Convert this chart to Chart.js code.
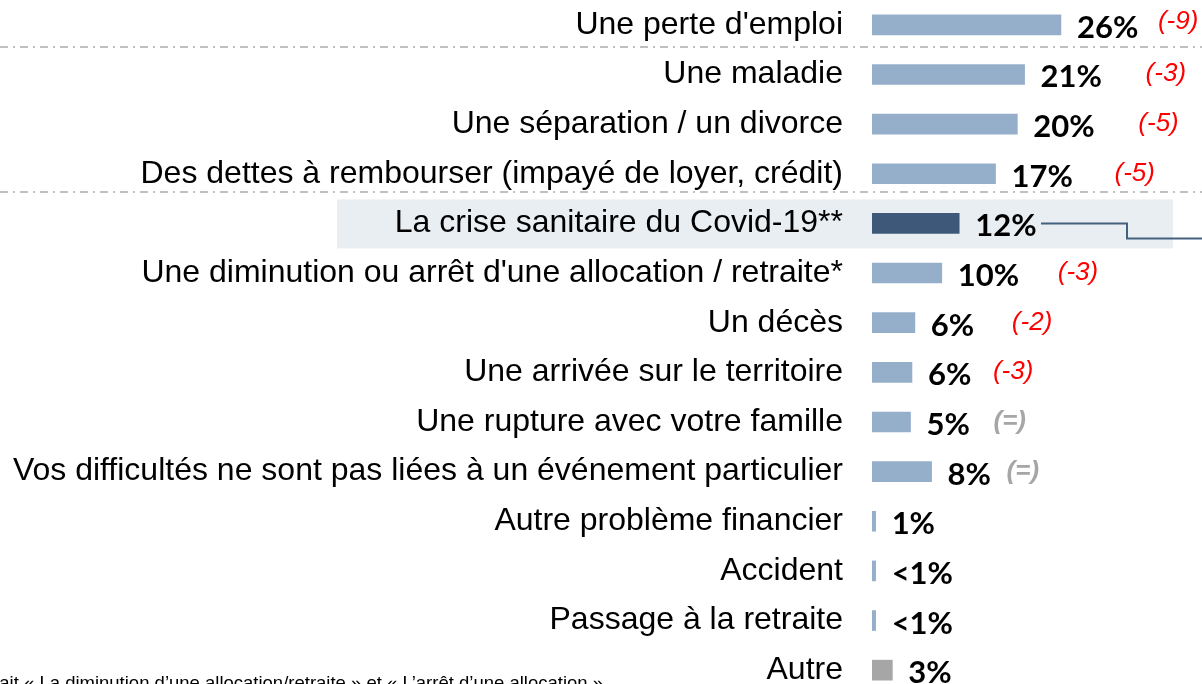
<!DOCTYPE html>
<html><head><meta charset="utf-8">
<script src="https://cdn.jsdelivr.net/npm/chart.js@4/dist/chart.umd.min.js"></script>
<style>html,body{margin:0;padding:0;background:#fff;overflow:hidden}</style>
</head><body>
<canvas id="c" width="1202" height="695"></canvas>
<script>
// ---- DATA ----
const categories = [
  "Une perte d'emploi",
  "Une maladie",
  "Une séparation / un divorce",
  "Des dettes à rembourser (impayé de loyer, crédit)",
  "La crise sanitaire du Covid-19**",
  "Une diminution ou arrêt d'une allocation / retraite*",
  "Un décès",
  "Une arrivée sur le territoire",
  "Une rupture avec votre famille",
  "Vos difficultés ne sont pas liées à un événement particulier",
  "Autre problème financier",
  "Accident",
  "Passage à la retraite",
  "Autre"
];
const barValues   = [26, 21, 20, 17, 12, 9.6, 5.9, 5.5, 5.3, 8.2, 0.5, 0.5, 0.5, null];
const otherValues = [null, null, null, null, null, null, null, null, null, null, null, null, null, 2.8];
const valueLabels = ["26%", "21%", "20%", "17%", "12%", "10%", "6%", "6%", "5%", "8%", "1%", "<1%", "<1%", "3%"];
const deltaLabels = ["(-9)", "(-3)", "(-5)", "(-5)", "", "(-3)", "(-2)", "(-3)", "(=)", "(=)", "", "", "", ""];
const footnote = "*Cet item regroupait « La diminution d’une allocation/retraite » et « L’arrêt d’une allocation »";

// ---- LAYOUT / STYLE ----
const deltaOffsetPx = [97, 121, 121, 119, 0, 116, 97, 81, 83, 75, 0, 0, 0, 0];
const LIGHT = '#95afcb', DARK = '#3e5879', GREY = '#a6a6a6';
const SANS = "'Liberation Sans', Arial, sans-serif";

function dashLine(ctx, y) {
  ctx.save();
  ctx.strokeStyle = '#c0c0c0';
  ctx.lineWidth = 2;
  ctx.setLineDash([8, 5, 2, 5]);
  ctx.beginPath(); ctx.moveTo(0, y); ctx.lineTo(1202, y); ctx.stroke();
  ctx.restore();
}

const decor = {
  id: 'decor',
  beforeDraw(chart) {
    const ctx = chart.ctx, y = chart.scales.y;
    const cy = y.getPixelForValue(4);
    ctx.save();
    ctx.fillStyle = '#e9eef3';
    ctx.fillRect(337, cy - 24, 1173 - 337, 49);
    ctx.restore();
    dashLine(ctx, 47);
    dashLine(ctx, 192);
  },
  afterDatasetsDraw(chart) {
    const ctx = chart.ctx, x = chart.scales.x, y = chart.scales.y;
    ctx.save();
    categories.forEach((c, i) => {
      const v = barValues[i] != null ? barValues[i] : otherValues[i];
      const end = x.getPixelForValue(v);
      const cy = y.getPixelForValue(i);
      ctx.font = "bold 31px Lato, 'Open Sans', sans-serif";
      ctx.fillStyle = '#000';
      ctx.textAlign = 'left';
      ctx.textBaseline = 'alphabetic';
      ctx.fillText(valueLabels[i], end + 16, cy + 13);
      const d = deltaLabels[i];
      if (d) {
        if (d === '(=)') {
          ctx.font = "italic bold 26px " + SANS;
          ctx.fillStyle = GREY;
        } else {
          ctx.font = "italic 26px " + SANS;
          ctx.fillStyle = '#ff0000';
        }
        ctx.fillText(d, end + deltaOffsetPx[i], cy + 7 - (i === 0 ? 3 : 0));
      }
    });
    // connector from the Covid row
    const cy4 = y.getPixelForValue(4);
    ctx.strokeStyle = '#44607f';
    ctx.lineWidth = 2;
    ctx.setLineDash([]);
    ctx.beginPath();
    ctx.moveTo(1041, cy4); ctx.lineTo(1127, cy4); ctx.lineTo(1127, cy4 + 15); ctx.lineTo(1202, cy4 + 15);
    ctx.stroke();
    // footnote (cut at the left edge, as in the source)
    ctx.font = "18.5px " + SANS;
    ctx.fillStyle = '#000';
    ctx.textAlign = 'right';
    ctx.fillText(footnote, 603, 689);
    ctx.restore();
  }
};

new Chart(document.getElementById('c'), {
  type: 'bar',
  data: {
    labels: categories,
    datasets: [
      {
        data: barValues,
        backgroundColor: (ctx) => ctx.dataIndex === 4 ? DARK : LIGHT,
        barThickness: 20,
        grouped: false
      },
      {
        data: otherValues,
        backgroundColor: GREY,
        barThickness: 20,
        grouped: false
      }
    ]
  },
  options: {
    indexAxis: 'y',
    responsive: false,
    animation: false,
    devicePixelRatio: 1,
    layout: { padding: { top: 0, right: 3, bottom: 0, left: 0 } },
    plugins: { legend: { display: false }, tooltip: { enabled: false } },
    scales: {
      x: { display: false, min: 0, max: 45 },
      y: {
        grid: { display: false, drawTicks: false },
        border: { display: false },
        afterFit(scale) {
          scale.width = 872;
          scale.paddingTop = 0;
          scale.paddingBottom = 0;
        },
        ticks: {
          padding: 29,
          color: '#000',
          autoSkip: false,
          font: { family: SANS, size: 32 }
        }
      }
    }
  },
  plugins: [decor]
});
</script>
</body></html>
